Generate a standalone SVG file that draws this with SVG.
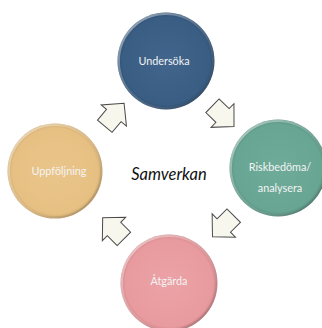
<svg xmlns="http://www.w3.org/2000/svg" width="322" height="328" viewBox="0 0 322 328">
<style>
.lbl{font-family:Lato,"Liberation Sans",sans-serif;font-size:10.8px;fill:#f4f4f4;text-anchor:middle}
.arr{fill:#f8f7ee;stroke:#4a4a4a;stroke-width:1;stroke-linejoin:miter}
.rim{fill:none;stroke:url(#rimg);stroke-width:2.2}
</style>
<defs>
<linearGradient id="rimg" x1="0" y1="0" x2="1" y2="1">
<stop offset="0" stop-color="#ffffff" stop-opacity="0.55"/>
<stop offset="0.5" stop-color="#ffffff" stop-opacity="0.15"/>
<stop offset="1" stop-color="#000000" stop-opacity="0.25"/>
</linearGradient>
<radialGradient id="gb" cx="0.5" cy="0.5" r="0.5"><stop offset="0" stop-color="#41658c"/><stop offset="0.9" stop-color="#3a5d83"/><stop offset="1" stop-color="#2f4e70"/></radialGradient>
<radialGradient id="gg" cx="0.5" cy="0.5" r="0.5"><stop offset="0" stop-color="#6eab99"/><stop offset="0.9" stop-color="#68a593"/><stop offset="1" stop-color="#588f7f"/></radialGradient>
<radialGradient id="gy" cx="0.5" cy="0.5" r="0.5"><stop offset="0" stop-color="#eac58a"/><stop offset="0.9" stop-color="#e6c083"/><stop offset="1" stop-color="#cfa96e"/></radialGradient>
<radialGradient id="gp" cx="0.5" cy="0.5" r="0.5"><stop offset="0" stop-color="#eba2a6"/><stop offset="0.9" stop-color="#e89b9f"/><stop offset="1" stop-color="#cf8589"/></radialGradient>
<path id="arrow" d="M-14,-9.5 L0,-9.5 L0,-16.5 L16,0 L0,16.5 L0,9.5 L-14,9.5 Z"/>
</defs>
<g id="connectors">
<use href="#arrow" class="arr" transform="translate(222.5,115.5) rotate(44)"/>
<use href="#arrow" class="arr" transform="translate(223.8,225.5) rotate(135)"/>
<use href="#arrow" class="arr" transform="translate(114,229) rotate(225)"/>
<use href="#arrow" class="arr" transform="translate(113.8,115.5) rotate(-50)"/>
</g>
<g id="undersoka">
<circle cx="166" cy="61" r="48.5" fill="url(#gb)"/>
<circle cx="166" cy="61" r="47.2" class="rim"/>
<text x="164" y="65" class="lbl">Undersöka</text>
</g>
<g id="riskbedoma">
<circle cx="278" cy="168" r="48.5" fill="url(#gg)"/>
<circle cx="278" cy="168" r="47.2" class="rim"/>
<text x="280" y="171" class="lbl">Riskbedöma/</text>
<text x="280" y="192" class="lbl">analysera</text>
</g>
<g id="uppfoljning">
<circle cx="55" cy="171" r="47.5" fill="url(#gy)"/>
<circle cx="55" cy="171" r="46.2" class="rim"/>
<text x="59" y="175" class="lbl">Uppföljning</text>
</g>
<g id="atgarda">
<circle cx="169" cy="283" r="48.5" fill="url(#gp)"/>
<circle cx="169" cy="283" r="47.2" class="rim"/>
<text x="169" y="285" class="lbl">Åtgärda</text>
</g>
<text x="169" y="180" font-family="Lato,'Liberation Sans',sans-serif" font-style="italic" font-size="16.5" fill="#111" text-anchor="middle">Samverkan</text>
</svg>
